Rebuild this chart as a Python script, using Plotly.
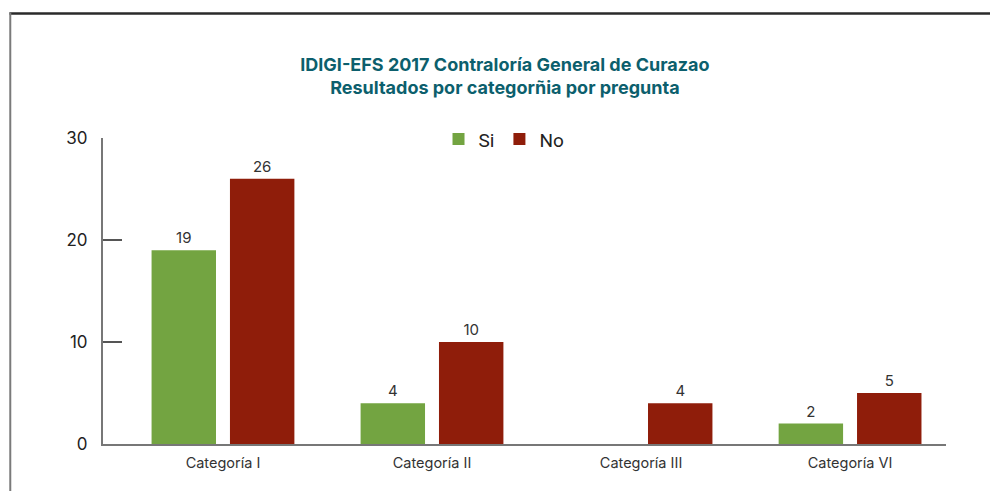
import plotly.graph_objects as go

# Data
categories = ["Categoría I", "Categoría II", "Categoría III", "Categoría VI"]
si_values = [19, 4, None, 2]
no_values = [26, 10, 4, 5]
y_ticks = [0, 10, 20, 30]

title_text = ("IDIGI-EFS 2017 Contraloría General de Curazao<br>"
              "Resultados por categorñia por pregunta")

GREEN = "#73a441"
RED = "#8f1d0a"
TITLE_COLOR = "#0c5f6d"
FONT = "Inter"


def labels(vals):
    return ["" if v is None else str(v) for v in vals]


fig = go.Figure()
fig.add_trace(go.Bar(
    name="Si", x=categories, y=si_values,
    marker=dict(color=GREEN, line=dict(width=0)),
    text=labels(si_values), textposition="outside",
    textfont=dict(family=FONT, size=15, color="#333333"),
    cliponaxis=False,
))
fig.add_trace(go.Bar(
    name="No", x=categories, y=no_values,
    marker=dict(color=RED, line=dict(width=0)),
    text=labels(no_values), textposition="outside",
    textfont=dict(family=FONT, size=15, color="#333333"),
    cliponaxis=False,
))

# Frame lines around the panel (top and left edges)
fig.add_shape(type="line", xref="paper", yref="paper",
              x0=-0.111, x1=1.06, y0=1.407, y1=1.407,
              line=dict(color="#2a2a2a", width=2.5))
fig.add_shape(type="line", xref="paper", yref="paper",
              x0=-0.11, x1=-0.11, y0=1.41, y1=-0.2,
              line=dict(color="#7a7a7a", width=2))

fig.update_layout(
    width=990, height=491,
    margin=dict(l=103, r=44, t=138, b=47),
    paper_bgcolor="white", plot_bgcolor="white",
    barmode="group", bargap=0.25, bargroupgap=0.178,
    font=dict(family=FONT, color="#333333"),
    title=dict(text=title_text, x=0.51, xanchor="center",
               y=0.856, yanchor="middle",
               font=dict(family=FONT, size=18, color=TITLE_COLOR,
                         weight="bold")),
    legend=dict(orientation="h", x=0.398, xanchor="left",
                y=1.058, yanchor="top",
                font=dict(family="Roboto", size=19, color="#222222"),
                itemwidth=30, traceorder="normal",
                bgcolor="rgba(0,0,0,0)"),
    showlegend=True,
)

fig.update_xaxes(
    type="category", range=[-0.574, 3.459],
    showline=True, linecolor="#777777", linewidth=2,
    ticks="", showgrid=False, zeroline=False,
    tickfont=dict(family=FONT, size=14.5, color="#333333"),
    ticklabelstandoff=5,
)
fig.update_yaxes(
    range=[0, 30], tickvals=y_ticks,
    showline=True, linecolor="#777777", linewidth=2,
    ticks="inside", ticklen=19, tickcolor="#555555", tickwidth=1.5,
    showgrid=False, zeroline=False,
    tickfont=dict(family=FONT, size=17, color="#222222"),
    ticklabelstandoff=10,
)

fig.write_html("out.html")
